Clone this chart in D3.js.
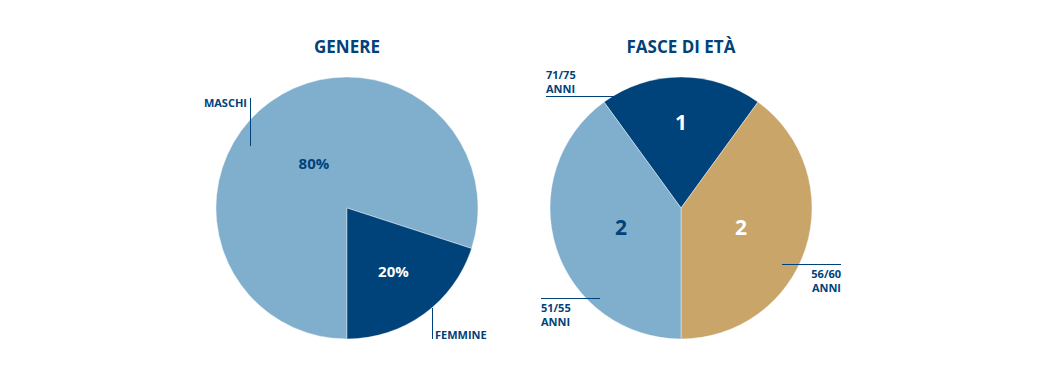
<!DOCTYPE html>
<html>
<head>
<meta charset="utf-8">
<script src="https://cdn.jsdelivr.net/npm/d3@7"></script>
<style>
  body { margin: 0; background: #fff; }
  svg { display: block; font-family: "Open Sans", "DejaVu Sans", sans-serif; }
</style>
</head>
<body>
<svg id="chart" width="1043" height="366"></svg>
<script>
// colours
const DARK = '#00427a';
const LIGHT = '#80afcd';
const GOLD = '#c9a56a';

// data: genere
const genereLabels = ['MASCHI', 'FEMMINE'];
const genereValues = [80, 20];
const genereColors = [LIGHT, DARK];

// data: fasce di eta
const fasceLabels = ['71/75 ANNI', '56/60 ANNI', '51/55 ANNI'];
const fasceValues = [1, 2, 2];
const fasceColors = [DARK, GOLD, LIGHT];

const svg = d3.select('#chart');
const R = 131;
const rad = Math.PI / 180;

// opts.labelR: radius of each value label, opts.labelA: angle override (deg) or null
function drawPie(cx, cy, title, values, colors, startDeg, opts) {
    const g = svg.append('g').attr('transform', `translate(${cx},${cy})`);
    const pie = d3.pie().sort(null)
        .startAngle(startDeg * rad)
        .endAngle(startDeg * rad + 2 * Math.PI);
    const arc = d3.arc().innerRadius(0).outerRadius(R);
    const arcs = pie(values);

    g.selectAll('path')
        .data(arcs)
        .join('path')
        .attr('d', arc)
        .attr('fill', (d, i) => colors[i])
        .attr('stroke', '#fff')
        .attr('stroke-width', 0.4);

    g.selectAll('text.val')
        .data(arcs)
        .join('text')
        .attr('class', 'val')
        .attr('transform', (d, i) => {
            const a = opts.labelA[i] != null ? opts.labelA[i] * rad : (d.startAngle + d.endAngle) / 2;
            const r = opts.labelR[i];
            return `translate(${r * Math.sin(a)},${-r * Math.cos(a)})`;
        })
        .attr('text-anchor', 'middle')
        .attr('dy', '0.36em')
        .attr('font-weight', 700)
        .attr('font-size', opts.size)
        .attr('fill', (d, i) => opts.colors[i])
        .text((d, i) => opts.fmt(values[i]));

    svg.append('text')
        .attr('x', cx)
        .attr('y', 53)
        .attr('text-anchor', 'middle')
        .attr('font-weight', 700)
        .attr('font-size', 17)
        .attr('fill', DARK)
        .text(title);
}

drawPie(347, 208, 'GENERE', genereValues, genereColors, 180, {
    labelR: [55, 79], labelA: [-37, null], size: 15,
    colors: [DARK, '#fff'], fmt: v => v + '%'
});

drawPie(681, 208, 'FASCE DI ETÀ', fasceValues, fasceColors, -36, {
    labelR: [86, 63, 63], labelA: [null, null, null], size: 21,
    colors: ['#fff', '#fff', DARK], fmt: v => v
});

// leader lines and category labels
function label(x, y, lines, anchor) {
    const t = svg.append('text')
        .attr('x', x).attr('y', y)
        .attr('text-anchor', anchor)
        .attr('font-weight', 700)
        .attr('font-size', 11)
        .attr('fill', DARK);
    lines.forEach((l, i) => t.append('tspan').attr('x', x).attr('dy', i ? 14 : 0).text(l));
}
function rule(x1, y1, x2, y2) {
    svg.append('line')
        .attr('x1', x1).attr('y1', y1).attr('x2', x2).attr('y2', y2)
        .attr('stroke', DARK).attr('stroke-width', 1);
}

rule(250.5, 98, 250.5, 146);
label(247, 107, [genereLabels[0]], 'end');
rule(432.5, 308, 432.5, 339);
label(435, 339, [genereLabels[1]], 'start');

rule(546, 96.5, 614, 96.5);
label(546, 79, fasceLabels[0].split(' '), 'start');
rule(782, 264.5, 841, 264.5);
label(841, 278, fasceLabels[1].split(' '), 'end');
rule(541, 298.5, 600, 298.5);
label(541, 312, fasceLabels[2].split(' '), 'start');
</script>
</body>
</html>
